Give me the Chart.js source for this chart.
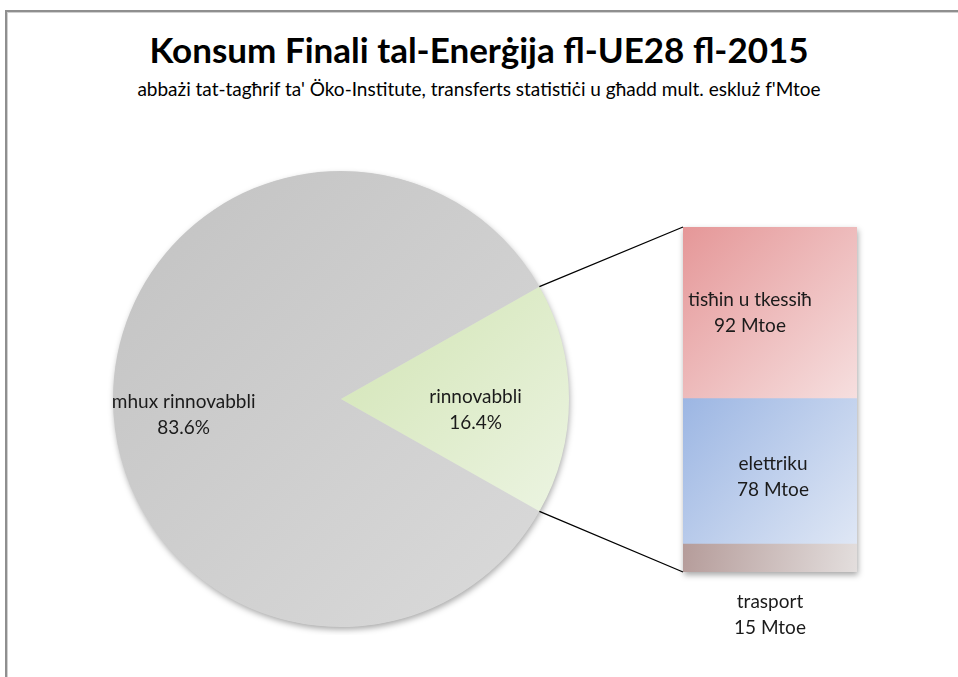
<!DOCTYPE html>
<html>
<head>
<meta charset="utf-8">
<script src="https://cdn.jsdelivr.net/npm/chart.js@4.4.1/dist/chart.umd.min.js"></script>
<style>
  html, body { margin: 0; padding: 0; background: #fff; width: 958px; height: 677px; overflow: hidden; }
  #frame { position: absolute; left: 5px; top: 10px; width: 1000px; height: 700px;
           border-top: 2px solid #8f8f8f; border-left: 2px solid #8f8f8f;
           box-shadow: inset 1px 1px 0 #d0d0d0; }
  #title { position: absolute; left: 0; width: 958px; top: 28px; text-align: center; white-space: nowrap;
           font-family: Lato, sans-serif; font-weight: bold; font-size: 35px; line-height: 42px; color: #000; }
  #subtitle { position: absolute; left: 0; width: 958px; top: 77px; text-align: center; white-space: nowrap;
           font-family: Lato, sans-serif; font-size: 19px; line-height: 24px; color: #000; }
  canvas { position: absolute; }
  #pie { left: 105px; top: 163px; }
  #bar { left: 650px; top: 210px; }
  #links { left: 0; top: 0; pointer-events: none; }
</style>
</head>
<body>
<div id="frame"></div>
<div id="title">Konsum Finali tal-Enerġija fl-UE28 fl-2015</div>
<div id="subtitle">abbażi tat-tagħrif ta' Öko-Institute, transferts statistiċi u għadd mult. eskluż f'Mtoe</div>
<canvas id="pie" width="472" height="472"></canvas>
<canvas id="bar" width="240" height="440"></canvas>
<canvas id="links" width="958" height="677"></canvas>
<script>
// ---- data ----
const pieLabels = ['mhux rinnovabbli', 'rinnovabbli'];
const pieShares = [83.6, 16.4];
const barLabels = ['trasport', 'elettriku', 'tisħin u tkessiħ'];
const barValues = [15, 78, 92];
const barUnit = 'Mtoe';

const FONT = 'Lato, sans-serif';
const TEXT = '#1b1b1b';

// ---- pie ----
const pieGrad = [['#c2c2c2', '#dbdbdb'], ['#d1e4b3', '#ecf4e2']];

const pieShadow = {
  id: 'pieShadow',
  beforeDatasetsDraw(chart) {
    const a = chart.getDatasetMeta(0).data[0];
    if (!a) return;
    const ctx = chart.ctx;
    ctx.save();
    ctx.shadowColor = 'rgba(0,0,0,0.35)';
    ctx.shadowBlur = 6;
    ctx.shadowOffsetX = 1;
    ctx.shadowOffsetY = 3;
    ctx.fillStyle = '#d6d6d6';
    ctx.beginPath();
    ctx.arc(a.x, a.y, a.outerRadius - 0.5, 0, Math.PI * 2);
    ctx.fill();
    ctx.restore();
  }
};

const pieLabelsPlugin = {
  id: 'pieLabelsPlugin',
  afterDatasetsDraw(chart, args, opts) {
    const ctx = chart.ctx;
    const meta = chart.getDatasetMeta(0);
    ctx.save();
    ctx.font = '19px ' + FONT;
    ctx.fillStyle = TEXT;
    ctx.textAlign = 'center';
    ctx.textBaseline = 'middle';
    meta.data.forEach((arc, i) => {
      const mid = (arc.startAngle + arc.endAngle) / 2;
      const r = arc.outerRadius * opts.radial[i];
      const x = arc.x + Math.cos(mid) * r;
      const y = arc.y + Math.sin(mid) * r + opts.dy[i];
      ctx.fillText(pieLabels[i], x, y - 13);
      ctx.fillText(pieShares[i].toFixed(1) + '%', x, y + 13);
    });
    ctx.restore();
  }
};

const pieChart = new Chart(document.getElementById('pie'), {
  type: 'pie',
  data: {
    labels: pieLabels,
    datasets: [{
      data: pieShares,
      borderWidth: 0,
      backgroundColor(c) {
        const area = c.chart.chartArea;
        if (!area) return pieGrad[c.dataIndex][0];
        const ctx = c.chart.ctx;
        let g;
        if (c.dataIndex === 0) {
          g = ctx.createLinearGradient(area.left, area.top, area.right, area.bottom);
        } else {
          const cx = (area.left + area.right) / 2, cy = (area.top + area.bottom) / 2, R = (area.right - area.left) / 2;
          g = ctx.createLinearGradient(cx, cy - R * 0.5, cx + R, cy + R * 0.5);
        }
        g.addColorStop(0, pieGrad[c.dataIndex][0]);
        g.addColorStop(1, pieGrad[c.dataIndex][1]);
        return g;
      }
    }]
  },
  options: {
    responsive: false,
    animation: false,
    // second slice centred on 3 o'clock
    rotation: 90 + (pieShares[1] / 100) * 360 / 2,
    layout: { padding: 8 },
    plugins: {
      legend: { display: false },
      tooltip: { enabled: false },
      pieLabelsPlugin: { radial: [0.69, 0.59], dy: [16, 11] }
    }
  },
  plugins: [pieShadow, pieLabelsPlugin]
});

// ---- bar ----
const barGrad = [['#b59c9a', '#e3dedd'], ['#9cb6e3', '#dfe7f5'], ['#e59798', '#f6dfdf']];
const barTotal = barValues.reduce((s, v) => s + v, 0);

const barShadow = {
  id: 'barShadow',
  beforeDatasetsDraw(chart) {
    const a = chart.chartArea;
    const ctx = chart.ctx;
    ctx.save();
    ctx.shadowColor = 'rgba(0,0,0,0.35)';
    ctx.shadowBlur = 6;
    ctx.shadowOffsetX = 1;
    ctx.shadowOffsetY = 3;
    ctx.fillStyle = '#d0d0d0';
    ctx.fillRect(a.left, a.top, a.right - a.left, a.bottom - a.top);
    ctx.restore();
  }
};

const barLabelsPlugin = {
  id: 'barLabelsPlugin',
  afterDatasetsDraw(chart, args, opts) {
    const ctx = chart.ctx;
    ctx.save();
    ctx.font = '19px ' + FONT;
    ctx.fillStyle = TEXT;
    ctx.textAlign = 'center';
    ctx.textBaseline = 'middle';
    barLabels.forEach((lab, i) => {
      const el = chart.getDatasetMeta(i).data[0];
      const x = el.x + opts.dx[i];
      const y = opts.outside[i] ? el.base + opts.dy[i] : (el.y + el.base) / 2 + opts.dy[i];
      ctx.fillText(lab, x, y - 13);
      ctx.fillText(barValues[i] + ' ' + barUnit, x, y + 13);
    });
    ctx.restore();
  }
};

const barChart = new Chart(document.getElementById('bar'), {
  type: 'bar',
  data: {
    labels: [''],
    datasets: barLabels.map((lab, i) => ({
      label: lab,
      data: [barValues[i]],
      borderWidth: 0,
      backgroundColor(c) {
        const ch = c.chart;
        const area = ch.chartArea;
        const ys = ch.scales.y;
        if (!area || !ys) return barGrad[i][0];
        const lo = barValues.slice(0, i).reduce((s, v) => s + v, 0);
        const hi = lo + barValues[i];
        const g = ch.ctx.createLinearGradient(area.left, ys.getPixelForValue(hi), area.right, ys.getPixelForValue(lo));
        g.addColorStop(0, barGrad[i][0]);
        g.addColorStop(1, barGrad[i][1]);
        return g;
      }
    }))
  },
  options: {
    responsive: false,
    animation: false,
    layout: { padding: { left: 33, right: 33, top: 17, bottom: 78 } },
    datasets: { bar: { barPercentage: 1, categoryPercentage: 1 } },
    scales: {
      x: { display: false, stacked: true },
      y: { display: false, stacked: true, min: 0, max: barTotal }
    },
    plugins: {
      legend: { display: false },
      tooltip: { enabled: false },
      barLabelsPlugin: { dx: [0, 3, -20], dy: [43, 6, 0], outside: [true, false, false] }
    }
  },
  plugins: [barShadow, barLabelsPlugin]
});

// ---- connector lines ----
(function drawLinks() {
  const pc = document.getElementById('pie'), bc = document.getElementById('bar');
  const arc = pieChart.getDatasetMeta(0).data[1];
  const top = barChart.getDatasetMeta(barLabels.length - 1).data[0];
  const bottom = barChart.getDatasetMeta(0).data[0];
  const px = pc.offsetLeft, py = pc.offsetTop, bx = bc.offsetLeft, by = bc.offsetTop;
  const ctx = document.getElementById('links').getContext('2d');
  const p1 = [px + arc.x + Math.cos(arc.startAngle) * arc.outerRadius, py + arc.y + Math.sin(arc.startAngle) * arc.outerRadius];
  const p2 = [px + arc.x + Math.cos(arc.endAngle) * arc.outerRadius, py + arc.y + Math.sin(arc.endAngle) * arc.outerRadius];
  const left = top.x - top.width / 2;
  ctx.strokeStyle = '#000';
  ctx.lineWidth = 1.3;
  ctx.beginPath();
  ctx.moveTo(p1[0], p1[1]);
  ctx.lineTo(bx + left, by + top.y);
  ctx.moveTo(p2[0], p2[1]);
  ctx.lineTo(bx + left, by + bottom.base);
  ctx.stroke();
})();
</script>
</body>
</html>
